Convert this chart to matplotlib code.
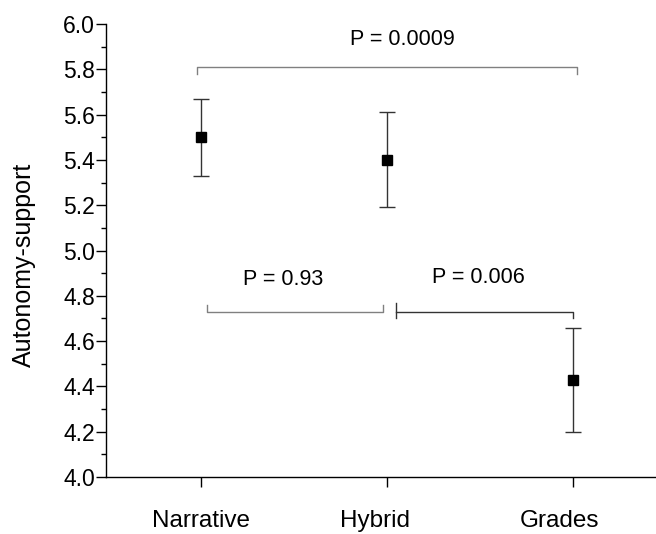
import matplotlib
matplotlib.use("Agg")
import matplotlib.pyplot as plt
from matplotlib.ticker import MultipleLocator, FormatStrFormatter

plt.rcParams['font.family'] = ['Liberation Sans', 'DejaVu Sans']

# данные
groups = ['Narrative', 'Hybrid', 'Grades']
means = [5.50, 5.40, 4.43]
err_low = [5.33, 5.19, 4.20]
err_high = [5.67, 5.61, 4.66]
p_labels = ['P = 0.0009', 'P = 0.93', 'P = 0.006']

x = [1, 2, 3]
yerr = [[m - lo for m, lo in zip(means, err_low)],
        [hi - m for m, hi in zip(means, err_high)]]

fig = plt.figure(figsize=(6.56, 5.34), dpi=100)
ax = fig.add_axes([106 / 656, 57 / 534, 1 - 106 / 656, (477 - 24) / 534])

ax.errorbar(x, means, yerr=yerr, fmt='none', ecolor='#333333',
            elinewidth=1.0, capsize=5.5, capthick=1.0, zorder=2)
ax.plot(x, means, 's', color='black', markersize=7, zorder=3)

# скобки сравнений
br = '#808080'
ax.plot([0.98, 0.98, 3.02, 3.02], [5.78, 5.81, 5.81, 5.78], color=br, lw=1.0)
ax.plot([1.03, 1.03, 1.98, 1.98], [4.76, 4.73, 4.73, 4.76], color=br, lw=1.0)
ax.plot([2.05, 2.05], [4.70, 4.77], color='#333333', lw=1.0)
ax.plot([2.05, 3.0, 3.0], [4.73, 4.73, 4.70], color='#333333', lw=1.0)

ax.text(2.08, 5.93, p_labels[0], ha='center', va='center', fontsize=15.5)
ax.text(1.44, 4.87, p_labels[1], ha='center', va='center', fontsize=15.5)
ax.text(2.49, 4.88, p_labels[2], ha='center', va='center', fontsize=15.5)

ax.set_xlim(0.489, 3.446)
ax.set_ylim(4.0, 6.0)
# основные деления без подписей, подписи на второстепенных (в оригинале
# Hybrid и Grades чуть левее своих делений)
ax.xaxis.remove_overlapping_locs = False
ax.set_xticks(x)
ax.set_xticklabels([])
ax.set_xticks([xi + dx for xi, dx in zip(x, [0, -0.065, -0.075])], minor=True)
ax.set_xticklabels(groups, minor=True, fontsize=17.5)
ax.tick_params(axis='x', which='major', length=7, width=1)
ax.tick_params(axis='x', which='minor', length=0, pad=24)

ax.yaxis.set_major_locator(MultipleLocator(0.2))
ax.yaxis.set_minor_locator(MultipleLocator(0.1))
ax.yaxis.set_major_formatter(FormatStrFormatter('%.1f'))
ax.tick_params(axis='y', which='major', length=7, width=1, pad=1, labelsize=16.5)
ax.tick_params(axis='y', which='minor', length=3.5, width=1)

ax.spines['top'].set_visible(False)
ax.spines['right'].set_visible(False)
ax.spines['left'].set_linewidth(1.0)
ax.spines['bottom'].set_linewidth(1.0)

ax.set_ylabel('Autonomy-support', fontsize=18)
ax.yaxis.set_label_coords(-0.128, 0.468)

fig.savefig('out.png', dpi=100)
